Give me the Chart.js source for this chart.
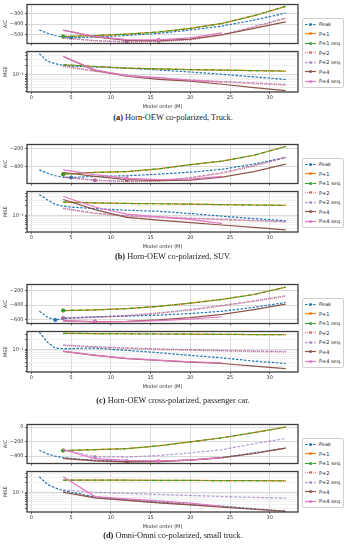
<!DOCTYPE html>
<html>
<head>
<meta charset="utf-8">
<script src="https://cdn.jsdelivr.net/npm/chart.js@4.4.1/dist/chart.umd.min.js"></script>
<style>
body{margin:0;background:#fff;width:346px;height:550px;position:relative;overflow:hidden;font-family:"DejaVu Sans",sans-serif}
.blk{position:absolute;left:0;width:346px;height:140px}
canvas{position:absolute;left:0}
.cap{position:absolute;left:0;width:346px;text-align:center;font-size:8.3px;font-family:"Liberation Serif",serif;color:#222}
.leg{position:absolute;left:302px;width:40px;border:1px solid #cfcfcf;border-radius:2px;background:#fff;font-size:5px;color:#222;padding:0.5px 0}
.leg div{height:9.5px;display:flex;align-items:center;white-space:nowrap}
.leg svg{margin:0 3px 0 2px;flex:none}
</style>
</head>
<body>
<script>
// model orders
const orderPeak = [1, 2, 3, 4, 5, 6, 8, 12, 16, 20, 24, 28, 32];
const orderP = [4, 8, 12, 16, 20, 24, 28, 32];
const orderP4seq = [4, 8, 12, 16, 20, 24];
const seriesNames = ["Peak", "P=1", "P=1 seq.", "P=2", "P=2 seq.", "P=4", "P=4 seq."];
const xTicks = [0, 5, 10, 15, 20, 25, 30];

// (a) Horn-OEW co-polarized, Truck
const aicTruck = [
  [-455, -485, -510, -522, -526, -527, -522, -507, -487, -455, -418, -362, -295],
  [-517, -508, -494, -474, -440, -393, -320, -232],
  [-517, -508, -494, -474, -440, -393, -320, -232],
  [-532, -558, -569, -565, -548, -505, -430, -345],
  [-528, -555, -566, -562, -543, -498, -422, -340],
  [-455, -520, -553, -556, -541, -500, -440, -378],
  [-458, -515, -546, -548, -530, -483]
];
const mseTruck = [
  [0.47, 0.274, 0.227, 0.2, 0.19, 0.185, 0.178, 0.165, 0.143, 0.124, 0.105, 0.087, 0.072],
  [0.21, 0.185, 0.165, 0.155, 0.147, 0.142, 0.137, 0.133],
  [0.21, 0.185, 0.165, 0.155, 0.147, 0.142, 0.137, 0.133],
  [0.185, 0.13, 0.097, 0.078, 0.068, 0.06, 0.054, 0.048],
  [0.195, 0.135, 0.1, 0.08, 0.07, 0.062, 0.056, 0.05],
  [0.384, 0.14, 0.091, 0.073, 0.064, 0.051, 0.04, 0.032],
  [0.39, 0.145, 0.094, 0.083, 0.068, 0.06]
];
const bestTruck = [5, 4, 4, 12, 12, 16, 16];

// (b) Horn-OEW co-polarized, SUV
const aicSuv = [
  [-436, -473, -502, -516, -520, -518, -509, -502, -484, -462, -429, -371, -298],
  [-484, -465, -455, -425, -378, -338, -273, -175],
  [-484, -465, -455, -425, -378, -338, -273, -175],
  [-520, -553, -567, -560, -527, -473, -393, -298],
  [-518, -551, -565, -556, -522, -467, -388, -296],
  [-465, -509, -545, -556, -550, -516, -455, -371],
  [-436, -490, -530, -545, -540, -509]
];
const mseSuv = [
  [0.46, 0.316, 0.225, 0.195, 0.185, 0.178, 0.165, 0.147, 0.136, 0.115, 0.095, 0.08, 0.068],
  [0.266, 0.25, 0.24, 0.235, 0.228, 0.22, 0.215, 0.21],
  [0.266, 0.25, 0.24, 0.235, 0.228, 0.22, 0.215, 0.21],
  [0.165, 0.115, 0.095, 0.088, 0.08, 0.074, 0.068, 0.063],
  [0.17, 0.12, 0.098, 0.09, 0.082, 0.076, 0.07, 0.065],
  [0.32, 0.154, 0.087, 0.071, 0.059, 0.05, 0.042, 0.035],
  [0.4, 0.186, 0.11, 0.09, 0.075, 0.055]
];
const bestSuv = [5, 4, 4, 8, 8, 12, 12];

// (c) Horn-OEW cross-polarized, passenger car
const aicCar = [
  [-483, -561, -600, -583, -575, -570, -557, -548, -535, -513, -483, -430, -365],
  [-474, -465, -448, -417, -374, -322, -257, -157],
  [-474, -465, -448, -417, -374, -322, -257, -157],
  [-575, -566, -545, -510, -466, -410, -348, -280],
  [-570, -562, -540, -505, -461, -404, -343, -274],
  [-613, -622, -618, -600, -570, -526, -461, -387],
  [-613, -626, -622, -610, -590, -557]
];
const mseCar = [
  [0.35, 0.17, 0.11, 0.105, 0.106, 0.108, 0.11, 0.093, 0.079, 0.065, 0.054, 0.043, 0.036],
  [0.32, 0.315, 0.31, 0.305, 0.3, 0.297, 0.293, 0.29],
  [0.32, 0.315, 0.31, 0.305, 0.3, 0.297, 0.293, 0.29],
  [0.133, 0.118, 0.108, 0.1, 0.095, 0.09, 0.086, 0.083],
  [0.138, 0.122, 0.112, 0.104, 0.098, 0.093, 0.089, 0.086],
  [0.087, 0.065, 0.051, 0.045, 0.04, 0.036, 0.03, 0.025],
  [0.088, 0.066, 0.052, 0.046, 0.041, 0.038]
];
const bestCar = [3, 4, 4, 4, 4, 8, 8];

// (d) Omni-Omni co-polarized, small truck
const aicSmallTruck = [
  [-320, -369, -400, -422, -432, -442, -458, -471, -470, -453, -422, -356, -289],
  [-324, -311, -298, -258, -204, -147, -76, 0],
  [-324, -311, -298, -258, -204, -147, -76, 0],
  [-431, -465, -480, -478, -455, -422, -362, -290],
  [-311, -409, -413, -391, -356, -311, -231, -156],
  [-431, -467, -480, -476, -455, -422, -364, -289],
  [-311, -436, -458, -467, -455, -422]
];
const mseSmallTruck = [
  [0.309, 0.18, 0.137, 0.113, 0.1, 0.09, 0.07, 0.058, 0.049, 0.041, 0.036, 0.03, 0.025],
  [0.243, 0.242, 0.24, 0.238, 0.236, 0.234, 0.232, 0.23],
  [0.243, 0.242, 0.24, 0.238, 0.236, 0.234, 0.232, 0.23],
  [0.1, 0.068, 0.056, 0.047, 0.041, 0.035, 0.029, 0.025],
  [0.118, 0.1, 0.092, 0.085, 0.079, 0.073, 0.069, 0.065],
  [0.1, 0.066, 0.055, 0.046, 0.04, 0.034, 0.029, 0.025],
  [0.309, 0.073, 0.062, 0.053, 0.045, 0.036]
];
const bestSmallTruck = [12, 4, 4, 12, 8, 12, 16];

// styles (matplotlib tab10)
const colors = ["#1f77b4", "#ff7f0e", "#2ca02c", "rgba(214,39,40,0.55)", "rgba(148,103,189,0.6)", "#8c564b", "#e377c2"];
const dashes = [[2.5, 1.5], [], [4, 1.2, 1, 1.2], [1, 1], [3, 1.5], [], []];
const widths = [1.2, 1.2, 1.2, 1.5, 1.3, 1.2, 1.2];

const panels = [
  {top: 0, aic: aicTruck, mse: mseTruck, best: bestTruck, aicRange: [-583, -214], aicTicks: [-500, -400, -300], mseRange: [0.029, 0.55], capTop: 113, tag: "(a)", caption: "Horn-OEW co-polarized, Truck."},
  {top: 140, aic: aicSuv, mse: mseSuv, best: bestSuv, aicRange: [-588, -153], aicTicks: [-400, -200], mseRange: [0.030, 0.574], capTop: 252, tag: "(b)", caption: "Horn-OEW co-polarized, SUV."},
  {top: 280, aic: aicCar, mse: mseCar, best: bestCar, aicRange: [-648, -122], aicTicks: [-600, -400, -200], mseRange: [0.0195, 0.365], capTop: 396, tag: "(c)", caption: "Horn-OEW cross-polarized, passenger car."},
  {top: 420, aic: aicSmallTruck, mse: mseSmallTruck, best: bestSmallTruck, aicRange: [-502, 36], aicTicks: [-400, -200, 0], mseRange: [0.0237, 0.453], capTop: 531, tag: "(d)", caption: "Omni-Omni co-polarized, small truck."}
];

Chart.defaults.font.family = "DejaVu Sans";
Chart.defaults.color = "#333";

const frame = {
  id: "frame",
  afterDraw(c) {
    const a = c.chartArea, g = c.ctx;
    g.save();
    g.strokeStyle = "#3c3c3c";
    g.lineWidth = 1.3;
    g.strokeRect(a.left, a.top, a.right - a.left, a.bottom - a.top);
    g.restore();
  }
};

function orders(i) {
  return i === 0 ? orderPeak : (i === 6 ? orderP4seq : orderP);
}

function logTicks(lo, hi) {
  const out = [];
  for (let e = -3; e <= 0; e++) {
    for (let k = 1; k <= 9; k++) {
      const v = k * Math.pow(10, e);
      if (v >= lo && v <= hi) out.push(v);
    }
  }
  return out;
}

function isMajor(v) {
  return Math.abs(Math.log10(v) - Math.round(Math.log10(v))) < 1e-6;
}

function makeChart(parent, top, height, rows, best, isMse, p) {
  const cv = document.createElement("canvas");
  cv.width = 300; cv.height = height;
  cv.style.top = top + "px";
  cv.style.width = "300px"; cv.style.height = height + "px";
  parent.appendChild(cv);

  const datasets = rows.map((r, i) => ({
    label: seriesNames[i],
    data: orders(i).map((m, j) => ({x: m, y: r[j]})),
    borderColor: colors[i],
    backgroundColor: colors[i],
    borderDash: dashes[i],
    borderWidth: widths[i],
    pointRadius: c => (!isMse && c.raw && c.raw.x === best[i]) ? 2 : 0,
    pointBorderWidth: 0,
    pointHoverRadius: 0,
    fill: false,
    tension: 0,
    order: 6 - i
  }));

  const yScale = isMse ? {
    type: "logarithmic",
    min: p.mseRange[0], max: p.mseRange[1],
    afterBuildTicks: s => { s.ticks = logTicks(p.mseRange[0], p.mseRange[1]).map(v => ({value: v, major: isMajor(v)})); },
    ticks: {font: {size: 5}, padding: 1.5, autoSkip: false, callback: v => isMajor(v) ? "10\u207B\u00B9" : ""},
    grid: {color: c => (c.tick && isMajor(c.tick.value)) ? "#cfcfcf" : "#eeeeee", tickColor: "#444", tickLength: 2, lineWidth: 0.8},
    border: {display: false},
    title: {display: true, text: "MSE", font: {size: 5}, padding: {top: 3, bottom: 0}},
    afterFit: s => { s.width = 27; }
  } : {
    type: "linear",
    min: p.aicRange[0], max: p.aicRange[1],
    afterBuildTicks: s => { s.ticks = p.aicTicks.map(v => ({value: v})); },
    ticks: {font: {size: 5}, padding: 1.5, callback: v => String(v).replace("-", "\u2212")},
    grid: {color: "#cfcfcf", tickColor: "#444", tickLength: 2, lineWidth: 0.8},
    border: {display: false},
    title: {display: true, text: "AIC", font: {size: 5}, padding: {top: 3, bottom: 0}},
    afterFit: s => { s.width = 27; }
  };

  return new Chart(cv, {
    type: "line",
    data: {datasets},
    options: {
      responsive: false,
      animation: false,
      events: [],
      layout: {padding: {top: 4, right: 2, left: 0, bottom: 0}},
      plugins: {legend: {display: false}, tooltip: {enabled: false}},
      scales: {
        x: {
          type: "linear",
          min: -0.55, max: 33.55,
          afterBuildTicks: s => { s.ticks = xTicks.map(v => ({value: v})); },
          ticks: {display: isMse, font: {size: 5}, padding: 1, maxRotation: 0},
          grid: {color: "#cfcfcf", tickColor: "#444", tickLength: 2, lineWidth: 0.8},
          border: {display: false},
          title: {display: isMse, text: "Model order (M)", font: {size: 5}, padding: {top: 0, bottom: 2}},
          afterFit: s => { s.height = isMse ? 20 : 4; }
        },
        y: yScale
      }
    },
    plugins: [frame]
  });
}

function makeLegend(parent) {
  const box = document.createElement("div");
  box.className = "leg";
  box.style.top = "18px";
  seriesNames.forEach((n, i) => {
    const d = document.createElement("div");
    const da = dashes[i].length ? ' stroke-dasharray="' + dashes[i].join(" ") + '"' : "";
    d.innerHTML = '<svg width="11" height="5"><line x1="0" y1="2.5" x2="11" y2="2.5" stroke="' + colors[i] + '" stroke-width="' + widths[i] + '"' + da + '/>' +
      '<circle cx="5.5" cy="2.5" r="1.5" fill="' + colors[i] + '"/></svg><span>' + n + '</span>';
    box.appendChild(d);
  });
  parent.appendChild(box);
}

panels.forEach(p => {
  const blk = document.createElement("div");
  blk.className = "blk";
  blk.style.top = p.top + "px";
  document.body.appendChild(blk);
  makeChart(blk, 0, 48, p.aic, p.best, false, p);
  makeChart(blk, 47, 65, p.mse, p.best, true, p);
  makeLegend(blk);
  const cap = document.createElement("div");
  cap.className = "cap";
  cap.style.top = p.capTop + "px";
  cap.innerHTML = "<b>" + p.tag + "</b> " + p.caption;
  document.body.appendChild(cap);
});
</script>
</body>
</html>
